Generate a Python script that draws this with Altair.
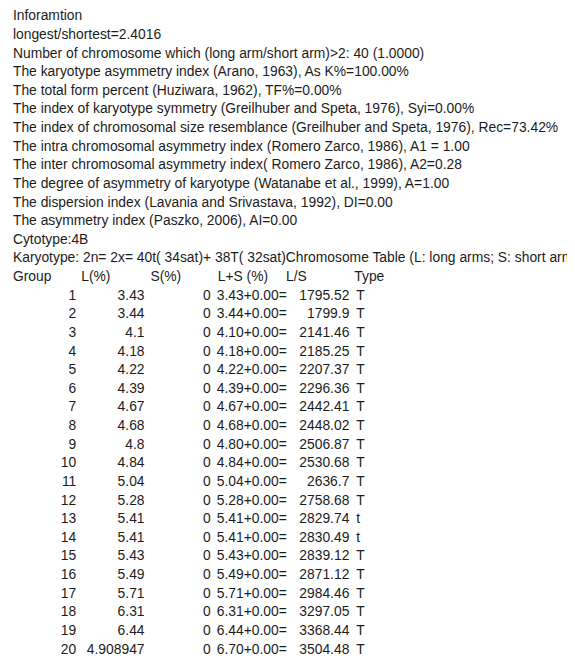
import altair as alt
import pandas as pd

info_lines = [
    "Inforamtion",
    "longest/shortest=2.4016",
    "Number of chromosome which (long arm/short arm)>2: 40 (1.0000)",
    "The karyotype asymmetry index (Arano, 1963), As K%=100.00%",
    "The total form percent (Huziwara, 1962), TF%=0.00%",
    "The index of karyotype symmetry (Greilhuber and Speta, 1976), Syi=0.00%",
    "The index of chromosomal size resemblance (Greilhuber and Speta, 1976), Rec=73.42%",
    "The intra chromosomal asymmetry index (Romero Zarco, 1986), A1 = 1.00",
    "The inter chromosomal asymmetry index( Romero Zarco, 1986), A2=0.28",
    "The degree of asymmetry of karyotype (Watanabe et al., 1999), A=1.00",
    "The dispersion index (Lavania and Srivastava, 1992), DI=0.00",
    "The asymmetry index (Paszko, 2006), AI=0.00",
    "Cytotype:4B",
    "Karyotype: 2n= 2x= 40t( 34sat)+ 38T( 32sat)Chromosome Table (L: long arms; S: short arms)",
]

col_headers = ["Group", "L(%)", "S(%)", "L+S (%)", "L/S", "Type"]

groups = [str(i) for i in range(1, 21)]
l_pct = ["3.43", "3.44", "4.1", "4.18", "4.22", "4.39", "4.67", "4.68", "4.8", "4.84",
         "5.04", "5.28", "5.41", "5.41", "5.43", "5.49", "5.71", "6.31", "6.44", "4.908947"]
s_pct = ["0"] * 20
ls_sum = ["3.43", "3.44", "4.10", "4.18", "4.22", "4.39", "4.67", "4.68", "4.80", "4.84",
          "5.04", "5.28", "5.41", "5.41", "5.43", "5.49", "5.71", "6.31", "6.44", "6.70"]
ls_ratio = ["1795.52", "1799.9", "2141.46", "2185.25", "2207.37", "2296.36", "2442.41",
            "2448.02", "2506.87", "2530.68", "2636.7", "2758.68", "2829.74", "2830.49",
            "2839.12", "2871.12", "2984.46", "3297.05", "3368.44", "3504.48"]
types = ["T"] * 12 + ["t", "t"] + ["T"] * 6

FONT = "Liberation Sans"
SIZE = 14
COLOR = "#1c1c1c"

n_info = len(info_lines)
header_row = n_info
first_row = n_info + 1
last_line = first_row + len(groups) - 1

yscale = alt.Scale(domain=[0, last_line], range=[5, 645])


def text_layer(df, x, align):
    return alt.Chart(df).mark_text(
        align=align, baseline="middle", font=FONT, fontSize=SIZE, color=COLOR
    ).encode(
        x=alt.value(x),
        y=alt.Y("line:Q", scale=yscale, axis=None),
        text="t:N",
    )


info_df = pd.DataFrame({"line": list(range(n_info)), "t": info_lines})

rows = list(range(first_row, first_row + len(groups)))
layers = [text_layer(info_df, 5, "left")]

header_x = [5, 74, 144, 212, 281, 350]
for h, hx in zip(col_headers, header_x):
    layers.append(text_layer(pd.DataFrame({"line": [header_row], "t": [h]}), hx, "left"))

layers.append(text_layer(pd.DataFrame({"line": rows, "t": groups}), 69, "right"))
layers.append(text_layer(pd.DataFrame({"line": rows, "t": l_pct}), 138, "right"))
layers.append(text_layer(pd.DataFrame({"line": rows, "t": s_pct}), 205, "right"))
layers.append(text_layer(pd.DataFrame({"line": rows, "t": [f"{v}+0.00=" for v in ls_sum]}), 211, "left"))
layers.append(text_layer(pd.DataFrame({"line": rows, "t": ls_ratio}), 345, "right"))
layers.append(text_layer(pd.DataFrame({"line": rows, "t": types}), 352, "left"))

chart = alt.layer(*layers).properties(
    width=565, height=650,
    autosize=alt.AutoSizeParams(type="none"),
    padding=0,
).configure(
    background="white",
    view=alt.ViewConfig(stroke=None, strokeWidth=0),
)

chart.save("out.html", embed_options={"renderer": "svg", "actions": False})
